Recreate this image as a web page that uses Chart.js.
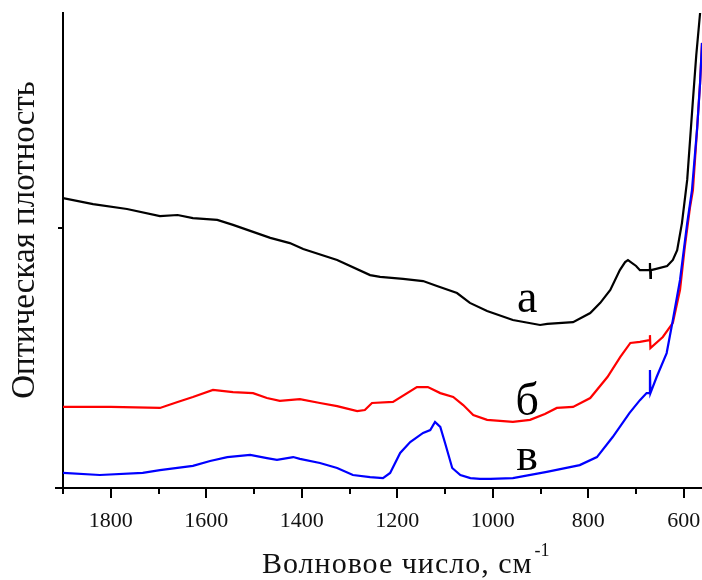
<!DOCTYPE html>
<html>
<head>
<meta charset="utf-8">
<script src="https://cdn.jsdelivr.net/npm/chart.js@4.4.0/dist/chart.umd.min.js"></script>
<style>
    html, body { margin: 0; padding: 0; background: #fff; }
    #wrap { width: 702px; height: 580px; }
</style>
</head>
<body>
<div id="wrap"><canvas id="spectra" width="702" height="580"></canvas></div>
<script>
// ИК-спектры: волновое число (см-1) и оптическая плотность для образцов а, б, в
const waveA = [1900, 1837, 1766, 1697, 1660, 1628, 1577, 1544, 1502, 1466, 1425, 1397, 1326, 1257, 1236, 1188, 1146, 1117, 1075, 1048,
    1012, 958, 901, 886, 832, 796, 775, 754, 734, 723, 717, 700, 692, 672, 671, 670, 669, 660, 635, 623, 614, 604, 593, 581, 574, 566];
const densA = [1.115, 1.092, 1.073, 1.046, 1.050, 1.038, 1.031, 1.012, 0.985, 0.962, 0.942, 0.919, 0.877, 0.819, 0.812, 0.804, 0.796, 0.777, 0.750, 0.712,
    0.681, 0.646, 0.627, 0.631, 0.638, 0.673, 0.712, 0.762, 0.838, 0.869, 0.877, 0.854, 0.838, 0.838, 0.865, 0.808, 0.838, 0.842, 0.854, 0.877, 0.915, 1.019, 1.185, 1.492, 1.665, 1.827];

const waveB = [1900, 1800, 1697, 1660, 1628, 1586, 1544, 1502, 1473, 1446, 1404, 1362, 1326, 1284, 1268, 1253, 1209, 1159, 1136, 1110,
    1083, 1062, 1041, 1012, 985, 958, 922, 891, 866, 832, 796, 760, 733, 712, 692, 672, 671, 670, 644, 623, 608, 598, 587, 581, 572, 566, 562];
const densB = [0.312, 0.312, 0.308, 0.331, 0.350, 0.377, 0.369, 0.365, 0.346, 0.335, 0.342, 0.327, 0.315, 0.296, 0.300, 0.327, 0.331, 0.388, 0.388, 0.365,
    0.350, 0.319, 0.281, 0.262, 0.258, 0.254, 0.262, 0.285, 0.308, 0.312, 0.346, 0.427, 0.504, 0.558, 0.562, 0.569, 0.588, 0.538, 0.581, 0.635, 0.762, 0.927, 1.081, 1.146, 1.388, 1.558, 1.712];

const waveC = [1900, 1823, 1733, 1697, 1628, 1592, 1556, 1508, 1473, 1452, 1418, 1404, 1362, 1326, 1293, 1257, 1230, 1215, 1194, 1173,
    1146, 1131, 1121, 1110, 1100, 1085, 1068, 1047, 1027, 1005, 958, 887, 818, 782, 749, 714, 692, 678, 672, 671, 670, 657, 636, 623, 608, 593, 583, 572, 566, 562];
const densC = [0.058, 0.050, 0.058, 0.069, 0.085, 0.104, 0.119, 0.127, 0.115, 0.108, 0.119, 0.112, 0.096, 0.077, 0.050, 0.042, 0.038, 0.058, 0.135, 0.177,
    0.212, 0.223, 0.254, 0.235, 0.173, 0.077, 0.050, 0.038, 0.035, 0.035, 0.038, 0.062, 0.088, 0.119, 0.196, 0.288, 0.338, 0.365, 0.365, 0.454, 0.365, 0.427, 0.519, 0.646, 0.800, 1.019, 1.146, 1.388, 1.558, 1.712];

const majorTicks = [1800, 1600, 1400, 1200, 1000, 800, 600];
const minorTicks = [1900, 1700, 1500, 1300, 1100, 900, 700];
const densTicks = [0, 1];
const curveNames = ['а', 'б', 'в'];

const SERIF = '"Liberation Serif", "Times New Roman", serif';

function toPoints(xs, ys) {
    return xs.map((x, i) => ({ x: x, y: ys[i] }));
}

// подписи кривых, оси, засечки
const decor = {
    id: 'decor',
    afterDraw(chart) {
        const ctx = chart.ctx;
        const sx = chart.scales.x;
        const sy = chart.scales.y;
        const area = chart.chartArea;

        ctx.save();
        ctx.strokeStyle = '#000';
        ctx.lineWidth = 2;
        ctx.beginPath();
        majorTicks.forEach(v => {
            const px = Math.round(sx.getPixelForValue(v));
            ctx.moveTo(px, area.bottom);
            ctx.lineTo(px, area.bottom + 10);
        });
        minorTicks.forEach(v => {
            const px = Math.round(sx.getPixelForValue(v));
            ctx.moveTo(px, area.bottom);
            ctx.lineTo(px, area.bottom + 6);
        });
        densTicks.forEach((v, i) => {
            const py = Math.round(sy.getPixelForValue(v));
            ctx.moveTo(area.left, py);
            ctx.lineTo(area.left - (i === 0 ? 8 : 5), py);
        });
        ctx.stroke();

        // а, б, в возле кривых
        ctx.fillStyle = '#000';
        ctx.font = '46px ' + SERIF;
        ctx.textAlign = 'center';
        ctx.textBaseline = 'alphabetic';
        const spots = [[928, 0.677], [928, 0.281], [928, 0.069]];
        curveNames.forEach((t, i) => {
            ctx.fillText(t, sx.getPixelForValue(spots[i][0]), sy.getPixelForValue(spots[i][1]));
        });

        // подпись оси Y
        ctx.font = '33px ' + SERIF;
        ctx.fillStyle = '#111';
        ctx.translate(34, 240);
        ctx.rotate(-Math.PI / 2);
        ctx.fillText('Оптическая плотность', 0, 0);
        ctx.restore();

        // подпись оси X с верхним индексом
        ctx.save();
        ctx.fillStyle = '#111';
        ctx.textAlign = 'left';
        ctx.textBaseline = 'alphabetic';
        ctx.font = '30px ' + SERIF;
        ctx.letterSpacing = '1px';
        const main = 'Волновое число, см';
        ctx.fillText(main, 262, 573);
        const w = ctx.measureText(main).width;
        ctx.letterSpacing = '0px';
        ctx.font = '18px ' + SERIF;
        ctx.fillText('-1', 262 + w + 2, 556);
        ctx.restore();
    }
};

new Chart(document.getElementById('spectra'), {
    type: 'line',
    data: {
        datasets: [
            { label: 'а', data: toPoints(waveA, densA), borderColor: '#000000', order: 3 },
            { label: 'б', data: toPoints(waveB, densB), borderColor: '#ff0000', order: 2 },
            { label: 'в', data: toPoints(waveC, densC), borderColor: '#0000ff', order: 1 }
        ]
    },
    options: {
        responsive: false,
        animation: false,
        layout: { padding: { top: 13, right: 0, left: 0, bottom: 0 } },
        elements: {
            point: { radius: 0 },
            line: { borderWidth: 2.2, tension: 0, fill: false }
        },
        plugins: {
            legend: { display: false },
            tooltip: { enabled: false }
        },
        scales: {
            x: {
                type: 'linear',
                reverse: true,
                min: 562,
                max: 1900,
                afterBuildTicks: s => { s.ticks = majorTicks.map(v => ({ value: v })); },
                afterFit: s => {
                    s.height = 92;
                    s.paddingLeft = 0;
                    s.paddingRight = 0;
                },
                grid: { display: false, drawTicks: false },
                border: { display: true, color: '#000', width: 2 },
                ticks: {
                    color: '#111',
                    font: { family: SERIF, size: 22 },
                    padding: 20,
                    maxRotation: 0,
                    autoSkip: false,
                    callback: v => String(v)
                }
            },
            y: {
                min: 0,
                max: 1.827,
                afterFit: s => { s.width = 63; },
                ticks: { display: false },
                grid: { display: false, drawTicks: false },
                border: { display: true, color: '#000', width: 2 }
            }
        }
    },
    plugins: [decor]
});
</script>
</body>
</html>
